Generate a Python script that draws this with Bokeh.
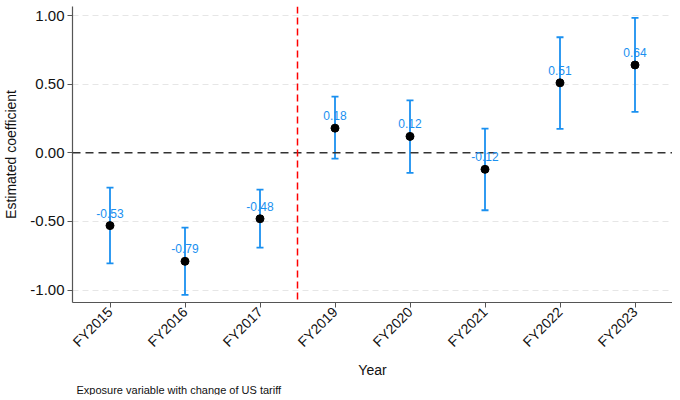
from bokeh.plotting import figure
from bokeh.models import (ColumnDataSource, Whisker, TeeHead, LabelSet, Span,
                          FixedTicker, NumeralTickFormatter, Range1d, Title)
from bokeh.core.properties import value
from bokeh.embed import file_html
from bokeh.resources import INLINE
import math

years = ["FY2015", "FY2016", "FY2017", "FY2019", "FY2020", "FY2021", "FY2022", "FY2023"]
coef = [-0.53, -0.79, -0.48, 0.18, 0.12, -0.12, 0.51, 0.64]
ci_low = [-0.805, -1.034, -0.691, -0.042, -0.146, -0.418, 0.175, 0.299]
ci_high = [-0.253, -0.545, -0.268, 0.409, 0.382, 0.177, 0.842, 0.983]
y_ticks = [-1.0, -0.5, 0.0, 0.5, 1.0]
break_position = 2.5  # between FY2017 and FY2019

xs = list(range(len(years)))
src = ColumnDataSource(dict(x=xs, coef=coef, lo=ci_low, hi=ci_high,
                            lab=["%.2f" % v for v in coef]))

FONT = "Liberation Sans"
BLUE = "#1a90f0"

p = figure(frame_width=600, frame_height=296, output_backend="svg", toolbar_location=None,
           x_range=Range1d(-0.5, 7.5), y_range=Range1d(-1.09, 1.066),
           min_border_left=68, min_border_right=0, min_border_top=6, min_border_bottom=86)
p.outline_line_color = None
p.background_fill_color = "white"

# grid
p.xgrid.grid_line_color = None
p.ygrid.ticker = FixedTicker(ticks=[-1.0, -0.5, 0.5, 1.0])
p.ygrid.grid_line_color = "#e6e6e6"
p.ygrid.grid_line_dash = "6 4"
p.ygrid.grid_line_width = 1

# axes
p.yaxis.ticker = FixedTicker(ticks=y_ticks)
p.yaxis.formatter = NumeralTickFormatter(format="0.00")
p.xaxis.ticker = FixedTicker(ticks=xs)
p.xaxis.major_label_overrides = {i: y for i, y in enumerate(years)}
p.xaxis.major_label_orientation = math.pi / 4
for ax in (p.xaxis[0], p.yaxis[0]):
    ax.axis_line_color = "#555555"
    ax.axis_line_width = 1.2
    ax.major_tick_line_color = "#555555"
    ax.major_tick_out = 5
    ax.major_tick_in = 0
    ax.minor_tick_line_color = None
    ax.major_label_text_font = FONT
    ax.major_label_text_color = "#111111"
    ax.axis_label_text_font = FONT
    ax.axis_label_text_font_size = "14px"
    ax.axis_label_text_font_style = "normal"
    ax.axis_label_text_color = "#111111"
p.yaxis.major_label_text_font_size = "15px"
p.xaxis.major_label_text_font_size = "14px"
p.yaxis.axis_label = "Estimated coefficient"
p.xaxis.axis_label = "Year"
p.xaxis.major_label_standoff = 2
p.yaxis.major_label_standoff = 3
p.xaxis.axis_label_standoff = 4
p.yaxis.axis_label_standoff = 8

# reference lines
p.add_layout(Span(location=0, dimension="width", line_color="#333333",
                  line_dash="8 5", line_width=1.5))
p.add_layout(Span(location=break_position, dimension="height", line_color="#ff0000",
                  line_dash="7 4", line_width=1.5))

# error bars
w = Whisker(base="x", lower="lo", upper="hi", source=src, line_color=BLUE, line_width=1.8,
            upper_head=TeeHead(size=7, line_color=BLUE, line_width=1.8),
            lower_head=TeeHead(size=7, line_color=BLUE, line_width=1.8))
p.add_layout(w)

p.scatter("x", "coef", source=src, size=8, color="black")

p.add_layout(LabelSet(x="x", y="coef", text="lab", source=src, text_align="center",
                      text_baseline="alphabetic", y_offset=8, text_color=BLUE,
                      text_font=value(FONT), text_font_size="12px"))

cap = Title(text="Exposure variable with change of US tariff", align="left",
            text_font=FONT, text_font_size="11px", text_font_style="normal",
            text_color="#111111", offset=4, standoff=0)
p.add_layout(cap, "below")

open("out.html", "w").write(file_html(p, INLINE))
